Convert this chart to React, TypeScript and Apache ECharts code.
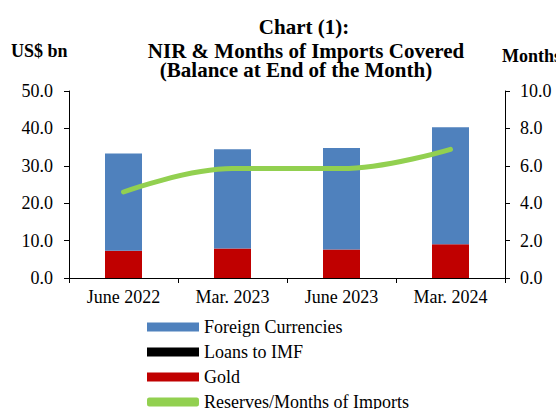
import React, { useEffect, useRef } from "react";
import * as echarts from "echarts";

const categories = ["June 2022", "Mar. 2023", "June 2023", "Mar. 2024"];
const foreignCurrencies = [26.0, 26.5, 27.1, 31.3];
const loansToIMF = [0, 0, 0, 0];
const gold = [7.3, 7.9, 7.65, 9.0];
const monthsOfImports = [4.6, 5.85, 5.85, 6.88];

const FONT = "'Liberation Serif', 'Times New Roman', serif";

export default function App() {
  const ref = useRef<HTMLDivElement>(null);
  useEffect(() => {
    const chart = echarts.init(ref.current!, undefined, { renderer: "svg" });
    chart.setOption({
      animation: false,
      textStyle: { fontFamily: FONT, color: "#000" },
      grid: { left: 69, right: 51, top: 91, bottom: 131 },
      graphic: [
        { type: "text", x: 304, y: 27, style: { text: "Chart (1):", font: `bold 21px ${FONT}`, fill: "#000", align: "center", verticalAlign: "middle" } },
        { type: "text", x: 306, y: 51, style: { text: "NIR & Months of Imports Covered", font: `bold 21px ${FONT}`, fill: "#000", align: "center", verticalAlign: "middle" } },
        { type: "text", x: 296, y: 70, style: { text: "(Balance at End of the Month)", font: `bold 21px ${FONT}`, fill: "#000", align: "center", verticalAlign: "middle" } },
        { type: "text", x: 11, y: 51, style: { text: "US$ bn", font: `bold 18px ${FONT}`, fill: "#000", align: "left", verticalAlign: "middle" } },
        { type: "text", x: 502, y: 56, style: { text: "Months", font: `bold 18px ${FONT}`, fill: "#000", align: "left", verticalAlign: "middle" } },
      ],
      legend: {
        orient: "vertical",
        left: 147,
        top: 318,
        height: 140,
        padding: 0,
        itemWidth: 52,
        itemHeight: 9,
        itemGap: 7,
        textStyle: { fontFamily: FONT, fontSize: 18, color: "#000" },
        data: [
          { name: "Foreign Currencies", icon: "rect" },
          { name: "Loans to IMF", icon: "rect" },
          { name: "Gold", icon: "rect" },
          { name: "Reserves/Months of Imports", icon: "roundRect", itemStyle: { color: "#92D050" } },
        ],
      },
      xAxis: {
        type: "category",
        data: categories,
        axisLine: { lineStyle: { color: "#000", width: 1 } },
        axisTick: { show: true, alignWithLabel: false, length: 5, lineStyle: { color: "#000" } },
        axisLabel: { fontFamily: FONT, fontSize: 18, color: "#000", margin: 10 },
      },
      yAxis: [
        {
          type: "value",
          min: 0,
          max: 50,
          interval: 10,
          splitLine: { show: false },
          axisLine: { show: true, lineStyle: { color: "#000" } },
          axisTick: { show: true, length: 5, lineStyle: { color: "#000" } },
          axisLabel: { fontFamily: FONT, fontSize: 18, color: "#000", margin: 16, formatter: (v: number) => v.toFixed(1) },
        },
        {
          type: "value",
          min: 0,
          max: 10,
          interval: 2,
          position: "right",
          splitLine: { show: false },
          axisLine: { show: true, lineStyle: { color: "#000" } },
          axisTick: { show: true, length: 5, lineStyle: { color: "#000" } },
          axisLabel: { fontFamily: FONT, fontSize: 18, color: "#000", margin: 15, formatter: (v: number) => v.toFixed(1) },
        },
      ],
      series: [
        {
          name: "Gold",
          type: "bar",
          stack: "nir",
          barWidth: 37,
          data: gold,
          itemStyle: { color: "#C00000" },
        },
        {
          name: "Loans to IMF",
          type: "bar",
          stack: "nir",
          barWidth: 37,
          data: loansToIMF,
          itemStyle: { color: "#000000" },
        },
        {
          name: "Foreign Currencies",
          type: "bar",
          stack: "nir",
          barWidth: 37,
          data: foreignCurrencies,
          itemStyle: { color: "#4F81BD" },
        },
        {
          name: "Reserves/Months of Imports",
          type: "line",
          yAxisIndex: 1,
          smooth: 0.4,
          symbol: "none",
          data: monthsOfImports,
          lineStyle: { color: "#92D050", width: 5, cap: "round" },
          itemStyle: { color: "#92D050" },
        },
      ],
    });
    return () => chart.dispose();
  }, []);
  return <div ref={ref} style={{ width: 556, height: 409, position: "absolute", left: 0, top: 0 }} />;
}
